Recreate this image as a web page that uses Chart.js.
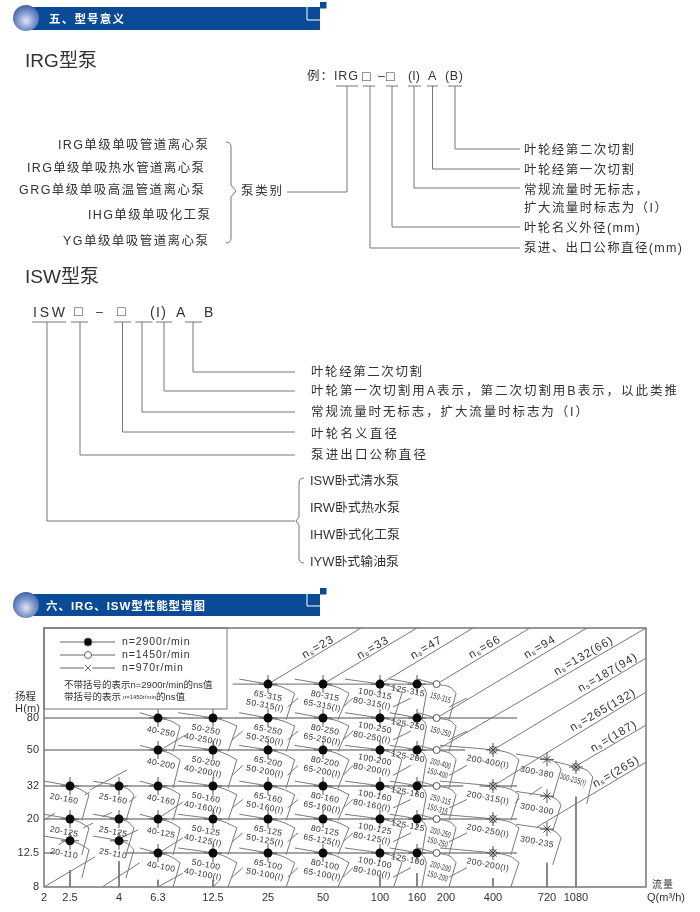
<!DOCTYPE html>
<html lang="zh">
<head>
    <meta charset="UTF-8">
    <title>型号意义 / 性能型谱图</title>
    <script src="https://cdn.jsdelivr.net/npm/chart.js"></script>
    <style>
        html, body { margin: 0; padding: 0; background: #fff; }
        #page { position: relative; width: 700px; height: 912px; overflow: hidden; }
        #chartBox { position: absolute; left: 0; top: 600px; width: 700px; height: 312px; }
        #notes { position: absolute; left: 0; top: 0; pointer-events: none; }
        #notes text { font-family: "Liberation Sans", "Noto Sans CJK SC", sans-serif; font-size: 12.5px; fill: #333; dominant-baseline: central; }
        #notes path { fill: none; stroke: #777; stroke-width: 1; }
        #notes .head { fill: #fff; font-weight: bold; font-size: 11.5px; }
        #notes .big { font-size: 19px; }
        #notes .box { font-size: 14px; }
    </style>
</head>
<body>
<div id="page">
    <div id="chartBox"><canvas id="spectrum" width="700" height="312"></canvas></div>
    <svg id="notes" width="700" height="912" xmlns="http://www.w3.org/2000/svg">
        <defs>
            <radialGradient id="ball" cx="50%" cy="60%" r="60%">
                <stop offset="0" stop-color="#dfe6f4"/>
                <stop offset="0.55" stop-color="#7f97cc"/>
                <stop offset="1" stop-color="#3f5fa8"/>
            </radialGradient>
        </defs>

        <rect x="30" y="7" width="290" height="23" fill="#0b4a94"/>
        <circle cx="26" cy="18" r="13" fill="url(#ball)"/>
        <path d="M307 7V20H320" style="stroke:#fff;stroke-width:1"/>
        <rect x="320" y="2" width="6.5" height="6.5" fill="#0b4a94"/>
        <text class="head" x="49" y="18.5" textLength="75">五、型号意义</text>

        <rect x="30" y="594" width="290" height="22" fill="#0b4a94"/>
        <circle cx="26" cy="605" r="13" fill="url(#ball)"/>
        <path d="M307 594V606H320" style="stroke:#fff;stroke-width:1"/>
        <rect x="320" y="588" width="6.5" height="6.5" fill="#0b4a94"/>
        <text class="head" x="46" y="606" textLength="159">六、IRG、ISW型性能型谱图</text>

        <text class="big" x="25" y="60" textLength="72">IRG型泵</text>
        <text x="58" y="145" textLength="150">IRG单级单吸管道离心泵</text>
        <text x="27" y="168" textLength="177">IRG单级单吸热水管道离心泵</text>
        <text x="19" y="190" textLength="185">GRG单级单吸高温管道离心泵</text>
        <text x="88" y="215" textLength="122">IHG单级单吸化工泵</text>
        <text x="63" y="241" textLength="145">YG单级单吸管道离心泵</text>
        <path d="M226 142Q231 142 231 147V185L236 191L231 197V238Q231 243 226 243"/>
        <text x="241" y="191" textLength="41">泵类别</text>
        <path d="M287 192H347V86"/>

        <text x="307" y="76" textLength="51">例：IRG</text>
        <text class="box" x="362" y="75.5">□</text>
        <text x="378" y="76" textLength="6">–</text>
        <text class="box" x="386" y="75.5">□</text>
        <text x="408" y="76" textLength="12">(I)</text>
        <text x="428" y="76" textLength="9">A</text>
        <text x="445" y="76" textLength="18">(B)</text>
        <path d="M336 86H358M363 86H375M386 86H398M408 86H421M427 86H438M448 86H462"/>
        <path d="M370 86V248H520M392 86V227H520M414 86V188H520M432.5 86V169H520M455 86V149H520"/>
        <text x="524" y="150" textLength="110">叶轮经第二次切割</text>
        <text x="524" y="170" textLength="110">叶轮经第一次切割</text>
        <text x="524" y="190" textLength="124">常规流量时无标志，</text>
        <text x="524" y="208" textLength="143">扩大流量时标志为（I）</text>
        <text x="524" y="228" textLength="116">叶轮名义外径(mm)</text>
        <text x="524" y="248" textLength="158">泵进、出口公称直径(mm)</text>

        <text class="big" x="25" y="276" textLength="74">ISW型泵</text>
        <text x="33" y="312" textLength="32" style="font-size:14px">ISW</text>
        <text class="box" x="74" y="311">□</text>
        <text x="96" y="312" textLength="8">–</text>
        <text class="box" x="117" y="311">□</text>
        <text x="150" y="312" textLength="16" style="font-size:14px">(I)</text>
        <text x="176" y="312" textLength="9" style="font-size:14px">A</text>
        <text x="204" y="312" textLength="10" style="font-size:14px">B</text>
        <path d="M32 322H66M71 322H88M114 322H131M135.5 322H152.5M156 322H172M185 322H202"/>
        <path d="M47 322V521H295M80 322V455H295M122.5 322V432H295M142 322V412H295M164 322V391H295M193 322V372H295"/>
        <text x="311" y="372" textLength="111">叶轮经第二次切割</text>
        <text x="311" y="391" textLength="366">叶轮第一次切割用A表示，第二次切割用B表示，以此类推</text>
        <text x="311" y="412" textLength="277">常规流量时无标志，扩大流量时标志为（I）</text>
        <text x="311" y="434" textLength="86">叶轮名义直径</text>
        <text x="311" y="455" textLength="115">泵进出口公称直径</text>
        <path d="M304 478Q299 478 299 483V517L296 521L299 525V558Q299 563 304 563"/>
        <text x="310" y="481" textLength="89" lengthAdjust="spacingAndGlyphs">ISW卧式清水泵</text>
        <text x="310" y="508" textLength="90" lengthAdjust="spacingAndGlyphs">IRW卧式热水泵</text>
        <text x="310" y="535" textLength="90" lengthAdjust="spacingAndGlyphs">IHW卧式化工泵</text>
        <text x="310" y="562" textLength="89" lengthAdjust="spacingAndGlyphs">IYW卧式输油泵</text>

        <text x="15" y="696" textLength="21" style="font-size:10.5px">扬程</text>
        <text x="15" y="708" textLength="25" style="font-size:11px">H(m)</text>
        <text x="652" y="884" textLength="21" style="font-size:10px">流量</text>
        <text x="647" y="897" textLength="38" style="font-size:11px">Q(m³/h)</text>
    </svg>
</div>

<script>
    // axis ticks
    const xTickValues = [2, 2.5, 4, 6.3, 12.5, 25, 50, 100, 160, 200, 400, 720, 1080];
    const yTickValues = [8, 12.5, 20, 32, 50, 80];

    // pump cells: name lines, flow Q and head H of the rated point
    const cellTop = [
        "20-160", "20-125", "20-110",
        "25-160", "25-125", "25-110",
        "40-250", "40-200", "40-160", "40-125", "40-100",
        "50-250", "50-200", "50-160", "50-125", "50-100",
        "65-315", "65-250", "65-200", "65-160", "65-125", "65-100",
        "80-315", "80-250", "80-200", "80-160", "80-125", "80-100",
        "100-315", "100-250", "100-200", "100-160", "100-125", "100-100",
        "125-315", "125-250", "125-200", "125-160", "125-125", "125-100",
        "150-315", "150-250", "200-400", "250-315", "200-250", "200-200",
        "200-400(I)", "200-315(I)", "200-250(I)", "200-200(I)",
        "300-380", "300-300", "300-235",
        "300-235(I)"
    ];
    const cellBottom = [
        "", "", "",
        "", "", "",
        "", "", "", "", "",
        "40-250(I)", "40-200(I)", "40-160(I)", "40-125(I)", "40-100(I)",
        "50-315(I)", "50-250(I)", "50-200(I)", "50-160(I)", "50-125(I)", "50-100(I)",
        "65-315(I)", "65-250(I)", "65-200(I)", "65-160(I)", "65-125(I)", "65-100(I)",
        "80-315(I)", "80-250(I)", "80-200(I)", "80-160(I)", "80-125(I)", "80-100(I)",
        "", "", "", "", "", "",
        "", "", "150-400", "150-315", "150-250", "150-200",
        "", "", "", "",
        "", "", "",
        ""
    ];
    const cellQ = [
        2.5, 2.5, 2.5,
        4, 4, 4,
        6.3, 6.3, 6.3, 6.3, 6.3,
        12.5, 12.5, 12.5, 12.5, 12.5,
        25, 25, 25, 25, 25, 25,
        50, 50, 50, 50, 50, 50,
        100, 100, 100, 100, 100, 100,
        160, 160, 160, 160, 160, 160,
        186, 186, 186, 186, 186, 186,
        400, 400, 400, 400,
        720, 720, 720,
        1080
    ];
    const cellH = [
        32, 20, 14.8,
        32, 20, 14.8,
        80, 50, 32, 20, 12.5,
        80, 50, 32, 20, 12.5,
        127, 80, 50, 32, 20, 12.5,
        127, 80, 50, 32, 20, 12.5,
        127, 80, 50, 32, 20, 12.5,
        127, 80, 50, 32, 20, 12.5,
        127, 80, 50, 32, 20, 12.5,
        50, 32, 20, 12.5,
        44.5, 27.7, 17.4,
        40.5
    ];

    // which columns carry which speed symbol
    const filledQ = [2.5, 4, 6.3, 12.5, 25, 50, 100, 160];   // n=2900
    const openQ = [186, 400, 1080];                          // n=1450
    const crossQ = [400, 720, 1080];                         // n=970

    // cell outline, one entry per column of flow
    const columnQ = [2.5, 4, 6.3, 12.5, 25, 50, 100, 160, 186, 400, 720, 1080];
    const arcLeftQ = [2, 3.12, 5.1, 8.1, 17.4, 35, 65.3, 113, 161, 191, 514, 805];
    const arcMidQ = [2.73, 4.43, 7.3, 14.4, 29.8, 59, 118, 168, 212, 480, 817, 1230];
    const shoulderQ = [3, 4.76, 8.3, 16.9, 35, 68.6, 132, 172, 232, 531, 877, 1320];
    const footQ = [2.8, 4.34, 7.6, 15.1, 31.4, 60, 119, 166, 209, 486, 780, 1230];
    const stubStartQ = [null, null, null, 15.9, 32, 63.8, 118, null, 209, null, null, null];
    const stubEndQ = [null, null, null, 18.2, 36.5, 72, 148, null, 272, null, null, null];

    // cell outline, one entry per row of head
    const rowH = [127, 80, 50, 44.5, 40.5, 32, 27.7, 20, 17.4, 14.8, 12.5];
    const arcLeftH = [136, 86, 53.5, 47.6, 43.3, 34, 29.6, 21.4, 18.6, 15.8, 13.4];
    const arcMidH = [122, 77, 48, 42.7, 38.9, 30.7, 26.6, 19.2, 16.7, 14.2, 12];
    const shoulderH = [112, 71, 44.3, 39.4, 35.8, 28.3, 24.5, 17.7, 15.4, 13.1, 11];
    const footH = [78, 49, 31, 27.2, 24.8, 19.6, 17, 12.2, 10.7, 9, 8];
    const stubStartH = [93, 58, 36.5, null, null, 23.4, null, 14.6, null, null, 9.1];
    const stubEndH = [105, 66, 41.3, null, null, 26.4, null, 16.5, null, null, 10.3];

    // long horizontal rules
    const ruleH = [127, 80, 50, 32, 32, 20, 12.5, 12.5];
    const ruleFromQ = [16, 2, 2, 2, 328, 2, 2, 4.4];
    const ruleToQ = [186, 520, 265, 258, 520, 520, 2.2, 520];

    // short rules standing on the x axis
    const standQ = [2.5, 4, 6.3, 12.5, 100, 160, 400, 720, 1080];
    const standTopH = [9.97, 11.2, 8.8, 8.8, 9.2, 9.6, 9, 11, 27.5];

    // the specific speed lines and their labels
    const nsText = ["=23", "=33", "=47", "=66", "=94", "=132(66)", "=187(94)", "=265(132)", "=(187)", "=(265)"];
    const nsFromQ = [25, 50, 100, 186, 186, 186, 400, 400, 1080, 646];
    const nsFromH = [127, 127, 127, 127, 80, 50, 50, 32, 41, 17.9];
    const nsToQ = [79.4, 160, 298, 598, 1230, 2500, 2500, 2500, 2500, 2500];
    const nsToH = [273, 273, 273, 273, 273, 273, 181, 114, 72, 43];
    const nsLabelQ = [47, 92, 172, 355, 667, 1185, 1584, 1495, 1700, 1750];
    const nsLabelH = [210, 208, 208, 210, 210, 186, 148, 89, 61, 38];

    // loose bits of those lines showing between the cells
    const pieceFromQ = [3.02, 6.5, 6.5, 6.5, 3.9, 2, 3.4, 6.3, 12.5, 2, 3.4, 2.27, 2.84, 2.88, 4.5, 598, 510];
    const pieceFromH = [30.2, 50, 20.6, 12.7, 15, 8, 8, 8, 8, 19.7, 20.6, 14, 17.7, 28.1, 25.5, 28.1, 25.2];
    const pieceToQ = [4.39, 8.8, 8.6, 8.6, 5, 3.18, 5.1, 8.6, 13.3, 2.2, 3.75, 2.5, 3.12, 3.02, 4.9, 682, 535];
    const pieceToH = [39, 62, 25.5, 15.4, 17.2, 11.9, 11, 9.6, 8.5, 21.8, 22, 15.4, 18.9, 29.4, 27.6, 31.6, 26.9];

    const legendRows = ["n=2900r/min", "n=1450r/min", "n=970r/min"];

    // this paper's axes are not a clean log grid, so map through knots (share of axis length)
    const axisKnots = {
        x: {
            values: [2, 2.5, 4, 6.3, 12.5, 25, 50, 100, 160, 200, 400, 720, 1080, 2500],
            shares: [0, 0.0432, 0.1246, 0.1894, 0.2807, 0.3721, 0.4635, 0.5581, 0.6196, 0.6678, 0.7458, 0.8355, 0.8837, 1]
        },
        y: {
            values: [8, 12.5, 20, 32, 50, 80, 273],
            shares: [0, 0.1313, 0.2625, 0.39, 0.529, 0.6525, 1]
        }
    };

    class KnotScale extends Chart.LinearScale {
        static id = 'knot';
        static defaults = Chart.LinearScale.defaults;

        buildTicks() {
            const list = this.axis === 'x' ? xTickValues : yTickValues;
            return list.map(value => ({ value }));
        }

        getPixelForValue(value) {
            if (value === null || value === undefined || isNaN(value)) return NaN;
            const { values, shares } = axisKnots[this.axis];
            let i = 0;
            while (i < values.length - 2 && value > values[i + 1]) i++;
            const t = Math.log(value / values[i]) / Math.log(values[i + 1] / values[i]);
            return this.getPixelForDecimal(shares[i] + t * (shares[i + 1] - shares[i]));
        }

        getValueForPixel(pixel) {
            const { values, shares } = axisKnots[this.axis];
            const share = this.getDecimalForPixel(pixel);
            let i = 0;
            while (i < shares.length - 2 && share > shares[i + 1]) i++;
            const t = (share - shares[i]) / (shares[i + 1] - shares[i]);
            return values[i] * Math.pow(values[i + 1] / values[i], t);
        }
    }
    Chart.register(KnotScale);

    const lineGrey = "#777";
    const inkGrey = "#333";
    const gap = { x: null, y: null };

    // label placement, one entry per column (pixels from the rated point)
    const labelDx = [-6, -6, 3, -7, 0, 2, -5, -9, 4, -5, -10, -3];
    const labelDy = [13, 13, 14, 12, 12, 12, 10, 7, 14, 12, 13, 13];
    const condensedQ = [186, 1080];

    function cellArcs() {
        return cellQ.map((q, i) => {
            const c = columnQ.indexOf(q);
            const r = rowH.indexOf(cellH[i]);
            return {
                data: [
                    { x: arcLeftQ[c], y: arcLeftH[r] },
                    { x: q, y: cellH[i] },
                    { x: arcMidQ[c], y: arcMidH[r] },
                    { x: shoulderQ[c], y: shoulderH[r] }
                ],
                showLine: true, tension: 0.4, borderColor: lineGrey, borderWidth: 1, pointRadius: 0
            };
        });
    }

    function brokenLine(points) {
        return { data: points, showLine: true, borderColor: lineGrey, borderWidth: 1, pointRadius: 0 };
    }

    function cellSides() {
        const points = [];
        cellQ.forEach((q, i) => {
            const c = columnQ.indexOf(q);
            const r = rowH.indexOf(cellH[i]);
            points.push({ x: shoulderQ[c], y: shoulderH[r] }, { x: footQ[c], y: footH[r] }, gap);
        });
        return brokenLine(points);
    }

    function cellStubs() {
        const points = [];
        cellQ.forEach((q, i) => {
            const c = columnQ.indexOf(q);
            const r = rowH.indexOf(cellH[i]);
            if (stubStartQ[c] === null || stubStartH[r] === null) return;
            points.push({ x: stubStartQ[c], y: stubStartH[r] }, { x: stubEndQ[c], y: stubEndH[r] }, gap);
        });
        return brokenLine(points);
    }

    function pairs(fromX, fromY, toX, toY) {
        const points = [];
        fromX.forEach((x, i) => points.push({ x: x, y: fromY[i] }, { x: toX[i], y: toY[i] }, gap));
        return points;
    }

    function marksIn(columns) {
        return cellQ.map((q, i) => ({ x: q, y: cellH[i] })).filter(p => columns.includes(p.x));
    }

    const datasets = [
        { label: "n=970r/min", data: marksIn(crossQ), pointStyle: 'crossRot', pointRadius: 5, borderColor: "#444", borderWidth: 1, backgroundColor: "transparent" },
        { label: "cross970", data: marksIn(crossQ), pointStyle: 'cross', pointRadius: 7, borderColor: "#555", borderWidth: 1 },
        { label: "n=2900r/min", data: marksIn(filledQ), pointStyle: 'circle', pointRadius: 4.5, backgroundColor: "#0a0a0a", borderColor: "#0a0a0a", borderWidth: 0 },
        { label: "n=1450r/min", data: marksIn(openQ), pointStyle: 'circle', pointRadius: 3.5, backgroundColor: "#fff", borderColor: "#555", borderWidth: 1 },
        { label: "stubs", data: marksIn(filledQ), pointStyle: 'cross', pointRadius: 9, borderColor: "#555", borderWidth: 1 },
        ...cellArcs(),
        cellSides(),
        cellStubs(),
        brokenLine(pairs(nsFromQ, nsFromH, nsToQ, nsToH)),
        brokenLine(pairs(pieceFromQ, pieceFromH, pieceToQ, pieceToH)),
        brokenLine(pairs(standQ, standTopH, standQ, standQ.map(() => 8))),
        { ...brokenLine(pairs(ruleFromQ, ruleH, ruleToQ, ruleH)), borderWidth: 1.3, borderColor: "#888" }
    ];

    const paperText = {
        id: 'paperText',
        afterDatasetsDraw(chart) {
            const { ctx, chartArea: a, scales: { x, y } } = chart;
            ctx.save();
            ctx.fillStyle = inkGrey;
            ctx.textBaseline = "middle";

            // cell names
            ctx.textAlign = "center";
            cellQ.forEach((q, i) => {
                const c = columnQ.indexOf(q);
                const squeeze = condensedQ.includes(q) ? 0.62 : 1;
                const drawLine = (text, dx, dy) => {
                    if (!text) return;
                    ctx.save();
                    ctx.translate(x.getPixelForValue(q) + dx, y.getPixelForValue(cellH[i]) + dy);
                    ctx.rotate((squeeze < 1 ? 16 : 11) * Math.PI / 180);
                    ctx.scale(squeeze, 1);
                    ctx.font = "8.5px 'Liberation Sans'";
                    ctx.letterSpacing = "0.4px";
                    ctx.fillText(text, 0, 0);
                    ctx.restore();
                };
                drawLine(cellTop[i], labelDx[c], labelDy[c]);
                drawLine(cellBottom[i], labelDx[c] - 3, labelDy[c] + 9.5);
            });

            // specific speed labels
            nsText.forEach((text, i) => {
                ctx.save();
                ctx.translate(x.getPixelForValue(nsLabelQ[i]), y.getPixelForValue(nsLabelH[i]));
                ctx.rotate(-30 * Math.PI / 180);
                ctx.textAlign = "left";
                ctx.letterSpacing = "1px";
                ctx.font = "11.5px 'Liberation Sans'";
                const wide = ctx.measureText("n" + text).width + 5;
                ctx.fillText("n", -wide / 2, 0);
                const nW = ctx.measureText("n").width;
                ctx.font = "7px 'Liberation Sans'";
                ctx.letterSpacing = "0px";
                ctx.fillText("s", -wide / 2 + nW, 2);
                ctx.letterSpacing = "1px";
                ctx.font = "11.5px 'Liberation Sans'";
                ctx.fillText(text, -wide / 2 + nW + 5, 0);
                ctx.restore();
            });

            // legend box sits over everything in the corner
            const left = a.left, top = a.top;
            ctx.fillStyle = "#fff";
            ctx.fillRect(left, top, 183, 81);
            ctx.strokeStyle = lineGrey;
            ctx.lineWidth = 1;
            ctx.strokeRect(left, top, 183, 81);
            ctx.textAlign = "left";
            legendRows.forEach((text, i) => {
                const rowY = top + 14 + i * 13;
                ctx.strokeStyle = "#666";
                ctx.beginPath();
                ctx.moveTo(left + 16, rowY);
                ctx.lineTo(left + 71, rowY);
                ctx.stroke();
                const cx = left + 44;
                if (i === 2) {
                    ctx.fillStyle = "#fff";
                    ctx.fillRect(cx - 4, rowY - 3, 8, 6);
                    ctx.beginPath();
                    ctx.moveTo(cx - 3, rowY - 3); ctx.lineTo(cx + 3, rowY + 3);
                    ctx.moveTo(cx + 3, rowY - 3); ctx.lineTo(cx - 3, rowY + 3);
                    ctx.stroke();
                } else {
                    ctx.beginPath();
                    ctx.arc(cx, rowY, i === 0 ? 4 : 3.5, 0, Math.PI * 2);
                    ctx.fillStyle = i === 0 ? "#0a0a0a" : "#fff";
                    ctx.fill();
                    ctx.stroke();
                }
                ctx.fillStyle = inkGrey;
                ctx.font = "10.5px 'Liberation Sans'";
                ctx.letterSpacing = "0.9px";
                ctx.fillText(text, left + 78, rowY);
            });
            ctx.letterSpacing = "0px";
            ctx.font = "9.5px 'Liberation Sans','Noto Sans CJK SC'";
            ctx.fillText("不带括号的表示n=2900r/min的ns值", left + 20, top + 57, 150);
            ctx.fillText("带括号的表示", left + 20, top + 69, 58);
            ctx.font = "6px 'Liberation Sans'";
            ctx.fillText("n=1450r/min", left + 79, top + 69.5, 33);
            ctx.font = "9.5px 'Liberation Sans','Noto Sans CJK SC'";
            ctx.fillText("的ns值", left + 112, top + 69, 30);

            // frame of the plot
            ctx.strokeStyle = "#777";
            ctx.lineWidth = 1.5;
            ctx.strokeRect(a.left, a.top, a.right - a.left, a.bottom - a.top);
            ctx.restore();
        }
    };

    new Chart(document.getElementById("spectrum"), {
        type: 'scatter',
        data: { datasets: datasets },
        plugins: [paperText],
        options: {
            responsive: false,
            animation: false,
            layout: { padding: { top: 28, right: 54, left: 0, bottom: 0 } },
            plugins: { legend: { display: false }, tooltip: { enabled: false }, title: { display: false } },
            scales: {
                x: {
                    type: 'knot',
                    min: 2,
                    max: 2500,
                    afterFit(scale) { scale.height = 25; },
                    grid: { display: false, drawTicks: false },
                    border: { display: false },
                    ticks: {
                        autoSkip: false,
                        maxRotation: 0,
                        padding: 4,
                        color: inkGrey,
                        font: { family: "'Liberation Sans'", size: 11 },
                        callback: value => String(value)
                    }
                },
                y: {
                    type: 'knot',
                    min: 8,
                    max: 273,
                    afterFit(scale) { scale.width = 44; },
                    grid: { display: false, drawTicks: false },
                    border: { display: false },
                    ticks: {
                        autoSkip: false,
                        padding: 5,
                        color: inkGrey,
                        font: { family: "'Liberation Sans'", size: 11 },
                        callback: value => String(value)
                    }
                }
            }
        }
    });
</script>
</body>
</html>
